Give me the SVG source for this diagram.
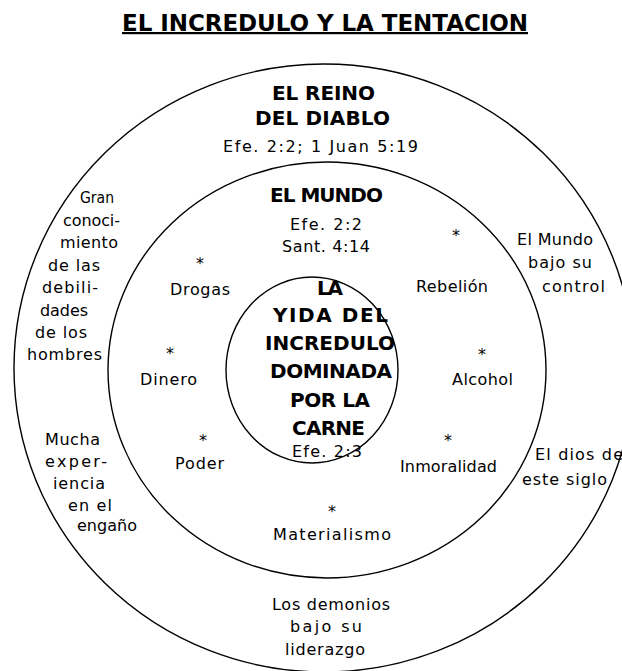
<svg xmlns="http://www.w3.org/2000/svg" width="622" height="671" viewBox="0 0 622 671">
<style>
.b{font-family:"DejaVu Sans","Liberation Sans",sans-serif;font-weight:bold;font-size:20px;fill:#000}
.t{font-family:"DejaVu Sans","Liberation Sans",sans-serif;font-weight:bold;font-size:23px;fill:#000}
.r{font-family:"DejaVu Sans","Liberation Sans",sans-serif;font-size:16px;fill:#000}
.s{font-family:"DejaVu Sans","Liberation Sans",sans-serif;font-size:16px;fill:#000;text-anchor:middle}
.c{fill:none;stroke:#000;stroke-width:1.4}
</style>
<rect width="622" height="671" fill="#fff"/>
<g id="title">
<text class="t" x="122" y="31" textLength="406" lengthAdjust="spacing">EL INCREDULO Y LA TENTACION</text>
<rect x="122" y="32" width="406" height="2.2" fill="#000"/>
</g>
<g id="reino">
<ellipse class="c" cx="324" cy="368" rx="310" ry="304"/>
<text class="b" x="272" y="100" textLength="103">EL REINO</text>
<text class="b" x="255" y="125" textLength="135">DEL DIABLO</text>
<text class="r" x="223" y="152" textLength="195">Efe. 2:2; 1 Juan 5:19</text>
<text class="r" x="80" y="203" textLength="34" lengthAdjust="spacingAndGlyphs">Gran</text>
<text class="r" x="63" y="226" textLength="57">conoci-</text>
<text class="r" x="60" y="248" textLength="58">miento</text>
<text class="r" x="48" y="271" textLength="52">de las</text>
<text class="r" x="42" y="293" textLength="56">debili-</text>
<text class="r" x="40" y="316" textLength="48">dades</text>
<text class="r" x="35" y="338" textLength="52">de los</text>
<text class="r" x="27" y="360" textLength="75">hombres</text>
<text class="r" x="45" y="445" textLength="55">Mucha</text>
<text class="r" x="45" y="467" textLength="62">exper-</text>
<text class="r" x="53" y="489" textLength="52">iencia</text>
<text class="r" x="68" y="511" textLength="44">en el</text>
<text class="r" x="77" y="531" textLength="60">engaño</text>
<text class="r" x="517" y="245" textLength="76">El Mundo</text>
<text class="r" x="528" y="268" textLength="64">bajo su</text>
<text class="r" x="542" y="292" textLength="63">control</text>
<text class="r" x="535" y="460" textLength="88">El dios de</text>
<text class="r" x="522" y="485" textLength="85">este siglo</text>
<text class="r" x="272" y="610" textLength="118">Los demonios</text>
<text class="r" x="290" y="632" textLength="72">bajo su</text>
<text class="r" x="285" y="655" textLength="80">liderazgo</text>
</g>
<g id="mundo">
<ellipse class="c" cx="327" cy="370" rx="219" ry="208"/>
<text class="b" x="270" y="202" textLength="113">EL MUNDO</text>
<text class="r" x="290" y="230" textLength="72">Efe. 2:2</text>
<text class="r" x="282" y="252" textLength="88">Sant. 4:14</text>
<text class="s" x="200" y="269">*</text>
<text class="r" x="170" y="295" textLength="60">Drogas</text>
<text class="s" x="170" y="359">*</text>
<text class="r" x="140" y="385" textLength="57">Dinero</text>
<text class="s" x="203" y="446">*</text>
<text class="r" x="175" y="469" textLength="49">Poder</text>
<text class="s" x="456" y="241">*</text>
<text class="r" x="416" y="292" textLength="72">Rebelión</text>
<text class="s" x="482" y="360">*</text>
<text class="r" x="452" y="385" textLength="61">Alcohol</text>
<text class="s" x="448" y="446">*</text>
<text class="r" x="400" y="472" textLength="97">Inmoralidad</text>
<text class="s" x="332" y="517">*</text>
<text class="r" x="273" y="540" textLength="118">Materialismo</text>
</g>
<g id="carne">
<ellipse class="c" cx="312" cy="370" rx="86" ry="93"/>
<text class="b" x="317" y="295" textLength="26">LA</text>
<text class="b" x="273" y="322" textLength="115">YIDA DEL</text>
<text class="b" x="265" y="350" textLength="130">INCREDULO</text>
<text class="b" x="270" y="378" textLength="122">DOMINADA</text>
<text class="b" x="290" y="407" textLength="80">POR LA</text>
<text class="b" x="292" y="435" textLength="73">CARNE</text>
<text class="r" x="292" y="457" textLength="70">Efe. 2:3</text>
</g>
</svg>
